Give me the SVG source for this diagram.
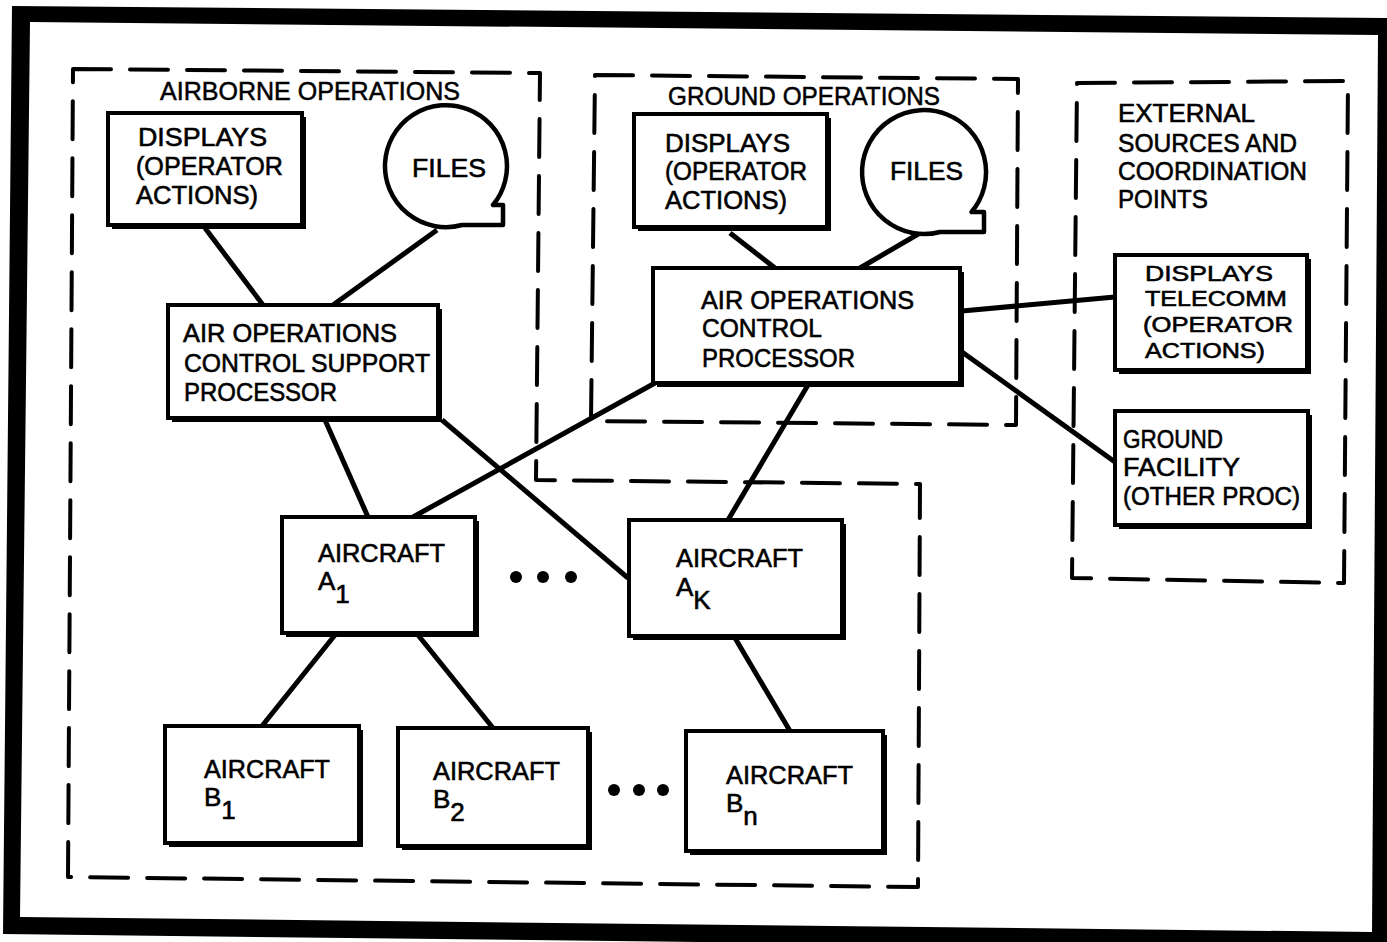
<svg xmlns="http://www.w3.org/2000/svg" width="1387" height="942" viewBox="0 0 1387 942">
<style>
.t{font-family:"Liberation Sans",Arial,sans-serif;font-size:26px;fill:#000;stroke:#000;stroke-width:0.6}
.s{font-family:"Liberation Sans",Arial,sans-serif;font-size:22.5px;fill:#000;stroke:#000;stroke-width:0.6}
.h{font-family:"Liberation Sans",Arial,sans-serif;font-size:25px;fill:#000;stroke:#000;stroke-width:0.5}
.bx{fill:#fff;stroke:#000;stroke-width:4}
.sh{fill:#000}
.dash{fill:none;stroke:#000;stroke-width:4;stroke-dasharray:38 19;stroke-linecap:round;stroke-linejoin:round}
.cn{stroke:#000;stroke-width:5;fill:none}
.dot{fill:#000}
</style>
<rect width="1387" height="942" fill="#fff"/>
<g id="frame">
<path fill="#000" fill-rule="evenodd" d="M 12 6 L 1395 18 L 1395 950 L 3 934 Z M 30 22 L 1378 35 L 1372 932 L 20 917 Z"/>
</g>
<g id="boundaries">
<path class="dash" d="M 73 69 L 540 73 L 536 480 L 920 484 L 918 887 L 68 877 Z"/>
<path class="dash" d="M 595 75 L 1018 79 L 1016 425 L 591 421 Z"/>
<path class="dash" d="M 1077 83 L 1348 81 L 1344 583 L 1072 578 Z"/>
<text class="h" x="160" y="100" textLength="300" lengthAdjust="spacingAndGlyphs">AIRBORNE OPERATIONS</text>
<text class="h" x="668" y="105" textLength="272" lengthAdjust="spacingAndGlyphs">GROUND OPERATIONS</text>
<text class="t" x="1118" y="122" textLength="137" lengthAdjust="spacingAndGlyphs">EXTERNAL</text>
<text class="t" x="1118" y="152" textLength="179" lengthAdjust="spacingAndGlyphs">SOURCES AND</text>
<text class="t" x="1118" y="180" textLength="189" lengthAdjust="spacingAndGlyphs">COORDINATION</text>
<text class="t" x="1118" y="208" textLength="90" lengthAdjust="spacingAndGlyphs">POINTS</text>
</g>
<g id="connectors">
<line class="cn" x1="205" y1="228" x2="263" y2="305"/>
<line class="cn" x1="437" y1="230" x2="333" y2="305"/>
<line class="cn" x1="325" y1="420" x2="368" y2="517"/>
<line class="cn" x1="442" y1="420" x2="628" y2="578"/>
<line class="cn" x1="655" y1="383" x2="413" y2="517"/>
<line class="cn" x1="808" y1="385" x2="728" y2="520"/>
<line class="cn" x1="730" y1="233" x2="775" y2="268"/>
<line class="cn" x1="920" y1="233" x2="860" y2="268"/>
<line class="cn" x1="962" y1="311" x2="1115" y2="297"/>
<line class="cn" x1="962" y1="352" x2="1115" y2="462"/>
<line class="cn" x1="335" y1="635" x2="262" y2="726"/>
<line class="cn" x1="418" y1="635" x2="493" y2="728"/>
<line class="cn" x1="735" y1="638" x2="790" y2="731"/>
</g>
<g id="air-displays">
<rect class="sh" x="112" y="117" width="194" height="112"/>
<rect class="bx" x="108" y="113" width="194" height="112"/>
<text class="t" x="138" y="146" textLength="129" lengthAdjust="spacingAndGlyphs">DISPLAYS</text>
<text class="t" x="136" y="175" textLength="147" lengthAdjust="spacingAndGlyphs">(OPERATOR</text>
<text class="t" x="136" y="204" textLength="122" lengthAdjust="spacingAndGlyphs">ACTIONS)</text>
</g>
<g id="air-files">
<path d="M 462 225 A 61 61 0 1 1 493 205 L 503 205 L 503 225 Z" fill="#fff" stroke="#000" stroke-width="4.5" stroke-linejoin="round"/>
<text class="t" x="412" y="177" textLength="74" lengthAdjust="spacingAndGlyphs">FILES</text>
</g>
<g id="aocsp">
<rect class="sh" x="172" y="309" width="270" height="113"/>
<rect class="bx" x="168" y="305" width="270" height="113"/>
<text class="t" x="183" y="342" textLength="214" lengthAdjust="spacingAndGlyphs">AIR OPERATIONS</text>
<text class="t" x="184" y="372" textLength="246" lengthAdjust="spacingAndGlyphs">CONTROL SUPPORT</text>
<text class="t" x="184" y="401" textLength="153" lengthAdjust="spacingAndGlyphs">PROCESSOR</text>
</g>
<g id="gnd-displays">
<rect class="sh" x="638" y="118" width="193" height="113"/>
<rect class="bx" x="634" y="114" width="193" height="113"/>
<text class="t" x="665" y="152" textLength="125" lengthAdjust="spacingAndGlyphs">DISPLAYS</text>
<text class="t" x="665" y="180" textLength="142" lengthAdjust="spacingAndGlyphs">(OPERATOR</text>
<text class="t" x="665" y="209" textLength="122" lengthAdjust="spacingAndGlyphs">ACTIONS)</text>
</g>
<g id="gnd-files">
<path d="M 940 232 A 62 62 0 1 1 971.5 212 L 984 212 L 984 232 Z" fill="#fff" stroke="#000" stroke-width="4.5" stroke-linejoin="round"/>
<text class="t" x="890" y="180" textLength="73" lengthAdjust="spacingAndGlyphs">FILES</text>
</g>
<g id="aocp">
<rect class="sh" x="657" y="272" width="307" height="115"/>
<rect class="bx" x="653" y="268" width="307" height="115"/>
<text class="t" x="701" y="309" textLength="213" lengthAdjust="spacingAndGlyphs">AIR OPERATIONS</text>
<text class="t" x="702" y="337" textLength="120" lengthAdjust="spacingAndGlyphs">CONTROL</text>
<text class="t" x="702" y="367" textLength="153" lengthAdjust="spacingAndGlyphs">PROCESSOR</text>
</g>
<g id="telecomm">
<rect class="sh" x="1119" y="259" width="192" height="115"/>
<rect class="bx" x="1115" y="255" width="192" height="115"/>
<text class="s" x="1145" y="281" textLength="128" lengthAdjust="spacingAndGlyphs">DISPLAYS</text>
<text class="s" x="1145" y="306" textLength="142" lengthAdjust="spacingAndGlyphs">TELECOMM</text>
<text class="s" x="1143" y="332" textLength="150" lengthAdjust="spacingAndGlyphs">(OPERATOR</text>
<text class="s" x="1145" y="358" textLength="120" lengthAdjust="spacingAndGlyphs">ACTIONS)</text>
</g>
<g id="facility">
<rect class="sh" x="1119" y="415" width="193" height="114"/>
<rect class="bx" x="1115" y="411" width="193" height="114"/>
<text class="t" x="1123" y="448" textLength="100" lengthAdjust="spacingAndGlyphs">GROUND</text>
<text class="t" x="1123" y="476" textLength="117" lengthAdjust="spacingAndGlyphs">FACILITY</text>
<text class="t" x="1123" y="505" textLength="177" lengthAdjust="spacingAndGlyphs">(OTHER PROC)</text>
</g>
<g id="aircraft-a1">
<rect class="sh" x="286" y="521" width="193" height="116"/>
<rect class="bx" x="282" y="517" width="193" height="116"/>
<text class="t" x="318" y="562" textLength="127" lengthAdjust="spacingAndGlyphs">AIRCRAFT</text>
<text class="t" x="318" y="590">A<tspan dy="13">1</tspan></text>
</g>
<g id="dots-a">
<circle class="dot" cx="516" cy="577" r="6"/>
<circle class="dot" cx="543" cy="577" r="6"/>
<circle class="dot" cx="571" cy="577" r="6"/>
</g>
<g id="aircraft-ak">
<rect class="sh" x="633" y="524" width="213" height="116"/>
<rect class="bx" x="629" y="520" width="213" height="116"/>
<text class="t" x="676" y="567" textLength="127" lengthAdjust="spacingAndGlyphs">AIRCRAFT</text>
<text class="t" x="676" y="596">A<tspan dy="13">K</tspan></text>
</g>
<g id="aircraft-b1">
<rect class="sh" x="169" y="730" width="194" height="117"/>
<rect class="bx" x="165" y="726" width="194" height="117"/>
<text class="t" x="204" y="778" textLength="126" lengthAdjust="spacingAndGlyphs">AIRCRAFT</text>
<text class="t" x="204" y="806">B<tspan dy="13">1</tspan></text>
</g>
<g id="aircraft-b2">
<rect class="sh" x="402" y="732" width="190" height="118"/>
<rect class="bx" x="398" y="728" width="190" height="118"/>
<text class="t" x="433" y="780" textLength="127" lengthAdjust="spacingAndGlyphs">AIRCRAFT</text>
<text class="t" x="433" y="808">B<tspan dy="13">2</tspan></text>
</g>
<g id="dots-b">
<circle class="dot" cx="614" cy="790" r="6"/>
<circle class="dot" cx="639" cy="790" r="6"/>
<circle class="dot" cx="663" cy="790" r="6"/>
</g>
<g id="aircraft-bn">
<rect class="sh" x="690" y="735" width="197" height="120"/>
<rect class="bx" x="686" y="731" width="197" height="120"/>
<text class="t" x="726" y="784" textLength="127" lengthAdjust="spacingAndGlyphs">AIRCRAFT</text>
<text class="t" x="726" y="812">B<tspan dy="13">n</tspan></text>
</g>
</svg>
